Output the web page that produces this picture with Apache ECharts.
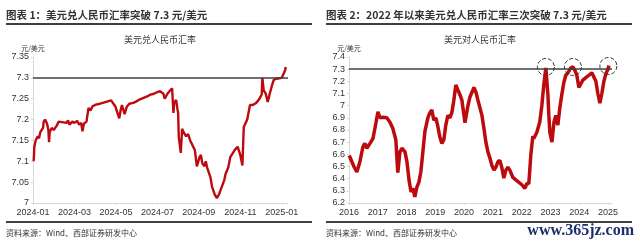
<!DOCTYPE html>
<html><head><meta charset="utf-8">
<script src="https://cdn.jsdelivr.net/npm/echarts@6/dist/echarts.min.js"></script>
<style>html,body{margin:0;padding:0;background:#fff}#c{width:640px;height:246px}</style>
</head><body><div id="c"></div>
<script>
// ---- Left chart data: USD/CNY 2024-01 .. 2025-01 ----
const leftDates = ['2024-01-02','2024-01-03','2024-01-05','2024-01-08','2024-01-10','2024-01-12','2024-01-16','2024-01-17','2024-01-19','2024-01-22','2024-01-24','2024-01-25','2024-01-26','2024-01-29','2024-02-01','2024-02-05','2024-02-08','2024-02-19','2024-02-21','2024-02-23','2024-02-27','2024-03-01','2024-03-05','2024-03-08','2024-03-11','2024-03-13','2024-03-15','2024-03-19','2024-03-22','2024-03-25','2024-03-28','2024-04-02','2024-04-08','2024-04-12','2024-04-18','2024-04-24','2024-04-26','2024-04-30','2024-05-06','2024-05-08','2024-05-10','2024-05-14','2024-05-17','2024-05-21','2024-05-27','2024-05-31','2024-06-05','2024-06-11','2024-06-17','2024-06-21','2024-06-26','2024-07-01','2024-07-05','2024-07-10','2024-07-12','2024-07-16','2024-07-19','2024-07-23','2024-07-24','2024-07-25','2024-07-26','2024-07-29','2024-07-31','2024-08-01','2024-08-02','2024-08-05','2024-08-07','2024-08-09','2024-08-13','2024-08-16','2024-08-19','2024-08-22','2024-08-26','2024-08-28','2024-08-29','2024-09-02','2024-09-04','2024-09-06','2024-09-09','2024-09-11','2024-09-13','2024-09-18','2024-09-20','2024-09-24','2024-09-27','2024-09-30','2024-10-08','2024-10-10','2024-10-14','2024-10-17','2024-10-21','2024-10-24','2024-10-28','2024-10-31','2024-11-01','2024-11-04','2024-11-06','2024-11-08','2024-11-11','2024-11-15','2024-11-19','2024-11-24','2024-11-28','2024-12-02','2024-12-03','2024-12-05','2024-12-08','2024-12-11','2024-12-14','2024-12-17','2024-12-20','2024-12-24','2024-12-28','2025-01-01','2025-01-03','2025-01-06','2025-01-07'];
const leftValues = [7.100,7.135,7.150,7.160,7.155,7.170,7.180,7.195,7.200,7.190,7.175,7.146,7.170,7.180,7.175,7.185,7.195,7.192,7.198,7.188,7.195,7.192,7.197,7.188,7.192,7.172,7.190,7.195,7.228,7.222,7.232,7.236,7.238,7.240,7.243,7.246,7.242,7.232,7.203,7.222,7.235,7.213,7.230,7.238,7.240,7.243,7.248,7.252,7.256,7.260,7.262,7.266,7.268,7.262,7.250,7.262,7.268,7.275,7.278,7.216,7.240,7.247,7.225,7.216,7.158,7.120,7.178,7.170,7.160,7.165,7.150,7.140,7.127,7.130,7.088,7.110,7.115,7.095,7.088,7.100,7.085,7.060,7.040,7.020,7.012,7.020,7.055,7.070,7.085,7.110,7.120,7.128,7.135,7.120,7.115,7.090,7.182,7.185,7.200,7.235,7.235,7.240,7.248,7.260,7.300,7.270,7.262,7.242,7.262,7.280,7.295,7.298,7.299,7.300,7.302,7.318,7.326];
const leftTickLabels = ['2024-01','2024-03','2024-05','2024-07','2024-09','2024-11','2025-01'];

// ---- Right chart data: USD/CNY 2016 .. 2025 ----
const rightDates = ['2016-01-04','2016-01-13','2016-02-08','2016-03-03','2016-04-10','2016-05-18','2016-06-25','2016-07-21','2016-08-15','2016-09-24','2016-11-01','2016-12-09','2017-01-03','2017-01-28','2017-03-06','2017-04-25','2017-06-03','2017-07-10','2017-08-18','2017-09-12','2017-10-09','2017-11-03','2017-12-12','2018-01-06','2018-02-01','2018-02-27','2018-03-22','2018-04-16','2018-05-12','2018-06-06','2018-07-01','2018-07-27','2018-08-21','2018-09-28','2018-10-23','2018-11-18','2018-12-13','2019-01-08','2019-02-03','2019-02-28','2019-03-25','2019-04-19','2019-05-14','2019-06-09','2019-07-04','2019-07-29','2019-08-24','2019-09-18','2019-10-14','2019-11-09','2019-12-04','2020-01-12','2020-02-19','2020-03-15','2020-04-10','2020-05-05','2020-05-31','2020-06-25','2020-07-20','2020-08-15','2020-09-09','2020-10-04','2020-10-30','2020-11-24','2020-12-19','2021-01-15','2021-02-09','2021-03-04','2021-03-31','2021-04-25','2021-05-20','2021-06-15','2021-07-10','2021-08-04','2021-09-12','2021-10-19','2021-11-27','2022-01-04','2022-02-11','2022-03-07','2022-04-02','2022-04-28','2022-05-23','2022-06-04','2022-07-12','2022-08-19','2022-09-14','2022-10-09','2022-11-04','2022-11-18','2022-11-30','2022-12-12','2022-12-25','2023-01-20','2023-02-15','2023-03-11','2023-04-05','2023-04-30','2023-05-25','2023-06-20','2023-07-15','2023-08-10','2023-09-17','2023-10-13','2023-11-07','2023-12-02','2023-12-28','2024-01-22','2024-02-17','2024-03-25','2024-05-03','2024-06-10','2024-07-05','2024-07-31','2024-08-25','2024-09-20','2024-10-15','2024-11-10','2024-12-06','2025-01-01','2025-01-13'];
const rightValues = [6.59,6.594,6.537,6.500,6.455,6.537,6.660,6.690,6.650,6.690,6.730,6.860,6.950,6.900,6.905,6.900,6.865,6.815,6.720,6.450,6.620,6.650,6.620,6.540,6.390,6.290,6.320,6.250,6.330,6.370,6.455,6.620,6.785,6.900,6.940,6.965,6.880,6.900,6.825,6.740,6.690,6.720,6.840,6.920,6.900,6.940,7.045,7.170,7.130,7.090,7.045,6.860,7.000,7.070,7.110,7.150,7.110,7.045,7.030,6.920,6.815,6.700,6.620,6.570,6.510,6.470,6.495,6.537,6.550,6.490,6.405,6.470,6.495,6.470,6.410,6.390,6.370,6.350,6.320,6.360,6.360,6.600,6.750,6.730,6.780,6.865,7.000,7.170,7.310,7.190,7.090,6.920,6.780,6.700,6.865,6.920,6.840,6.980,7.090,7.190,7.250,7.270,7.310,7.320,7.290,7.250,7.150,7.180,7.210,7.230,7.250,7.270,7.260,7.200,7.100,7.020,7.100,7.200,7.265,7.300,7.330];
const rightTickLabels = ['2016','2017','2018','2019','2020','2021','2022','2023','2024','2025'];
const breakDates = ['2022-11-04','2023-10-13','2025-01-06'];
const breakValues = [7.318,7.318,7.326];
const threshold = 7.3;

function parts(s){ return s.split('-').map(Number); }
function monthPos(s){ const [y,m,d]=parts(s); const dim=new Date(y,m,0).getDate(); return (y-2024)*12+(m-1)+(d-1)/dim; }
function yearPos(s){ const [y,m,d]=parts(s); const start=Date.UTC(y,0,1), end=Date.UTC(y+1,0,1); return y+(Date.UTC(y,m-1,d)-start)/(end-start); }

const leftData = leftDates.map((d,i)=>[monthPos(d), leftValues[i]]);
const rightData = rightDates.map((d,i)=>[yearPos(d), rightValues[i]]);
const circles = breakDates.map((d,i)=>({coord:[yearPos(d), breakValues[i]]}));

const axisFont = {fontFamily:'Liberation Sans', fontSize:9, color:'#333'};
const RED = '#BC0A0F';
const gray = '#d9d9d9';

const chart = echarts.init(document.getElementById('c'), null, {renderer:'canvas'});
const cjk = '"Noto Sans CJK SC", sans-serif';
function txt(x,y,text,size,opts){ return {type:'text', x:x, y:y, style:Object.assign({text:text, fontSize:size, fontFamily:cjk, fill:'#222', verticalAlign:'middle', align:'left'}, opts||{}), silent:true}; }
function hline(x1,x2,y,w){ return {type:'line', shape:{x1:x1,y1:y,x2:x2,y2:y}, style:{stroke:'#000', lineWidth:w}, silent:true}; }

chart.setOption({
  animation:false,
  grid:[
    {left:33, top:57, width:255, height:146},
    {left:349, top:57, width:263, height:146}
  ],
  xAxis:[
    {type:'value', gridIndex:0, min:0, max:12.3, interval:2,
     axisLine:{lineStyle:{color:gray}}, axisTick:{show:true, length:2, lineStyle:{color:gray}}, splitLine:{show:false},
     axisLabel:Object.assign({margin:5, showMaxLabel:false, formatter:v=>{const i=Math.round(v/2); return Math.abs(v-i*2)<1e-6 && leftTickLabels[i] ? leftTickLabels[i] : '';}}, axisFont)},
    {type:'value', gridIndex:1, min:2016, max:2025.14, interval:1,
     axisLine:{lineStyle:{color:gray}}, axisTick:{show:true, length:2, lineStyle:{color:gray}}, splitLine:{show:false},
     axisLabel:Object.assign({margin:5, showMaxLabel:false, formatter:v=>{const i=Math.round(v-2016); return Math.abs(v-2016-i)<1e-6 && rightTickLabels[i] ? rightTickLabels[i] : '';}}, axisFont)}
  ],
  yAxis:[
    {type:'value', gridIndex:0, min:7, max:7.35, interval:0.05,
     name:'元/美元', nameLocation:'end', nameGap:5, nameTextStyle:{fontFamily:cjk, fontSize:7, color:'#333', align:'center'},
     axisLine:{show:true, lineStyle:{color:gray}}, axisTick:{show:true, length:2, lineStyle:{color:gray}}, splitLine:{show:false},
     axisLabel:Object.assign({margin:4}, axisFont)},
    {type:'value', gridIndex:1, min:6.2, max:7.4, interval:0.1,
     name:'元/美元', nameLocation:'end', nameGap:5, nameTextStyle:{fontFamily:cjk, fontSize:7, color:'#333', align:'center'},
     axisLine:{show:true, lineStyle:{color:gray}}, axisTick:{show:true, length:2, lineStyle:{color:gray}}, splitLine:{show:false},
     axisLabel:Object.assign({margin:4, formatter:v=>String(Math.round(v*10)/10)}, axisFont)}
  ],
  series:[
    {type:'line', xAxisIndex:0, yAxisIndex:0, data:leftData, showSymbol:false, symbol:'none',
     lineStyle:{color:RED, width:2.4}, silent:true, z:3,
     markLine:{silent:true, symbol:'none', label:{show:false}, lineStyle:{color:'#404040', width:1.5, type:'solid'}, data:[{yAxis:threshold}]}},
    {type:'line', xAxisIndex:1, yAxisIndex:1, data:rightData, showSymbol:false, symbol:'none',
     lineStyle:{color:RED, width:3.5}, silent:true, z:3,
     markLine:{silent:true, symbol:'none', label:{show:false}, lineStyle:{color:'#404040', width:1.5, type:'solid'}, data:[{yAxis:threshold}]},
     markPoint:{silent:true, symbol:'circle', symbolSize:17, label:{show:false},
       itemStyle:{color:'rgba(0,0,0,0)', borderColor:'#333', borderWidth:1, borderType:'dashed'}, data:circles}}
  ],
  graphic:[
    txt(6,15,'图表 1：美元兑人民币汇率突破 7.3 元/美元',10.5,{fontWeight:'bold', fill:'#333'}),
    txt(326,15,'图表 2：2022 年以来美元兑人民币汇率三次突破 7.3 元/美元',10.5,{fontWeight:'bold', fill:'#333'}),
    hline(6,312,24,1.5),
    hline(326,632,24,1.5),
    txt(160,40,'美元兑人民币汇率',9,{align:'center', fill:'#333'}),
    txt(480,40,'美元对人民币汇率',9,{align:'center', fill:'#333'}),
    hline(6,312,222,1.5),
    hline(326,632,222,1.5),
    txt(6,233,'资料来源：Wind、西部证券研发中心',8,{fill:'#333'}),
    txt(326,233,'资料来源：Wind、西部证券研发中心',8,{fill:'#333'}),
    txt(634,231,'www.365jz.com',16,{align:'right', fill:'#1b2f6e', fontFamily:'"Liberation Serif", serif', fontWeight:'bold'})
  ]
});
</script></body></html>
